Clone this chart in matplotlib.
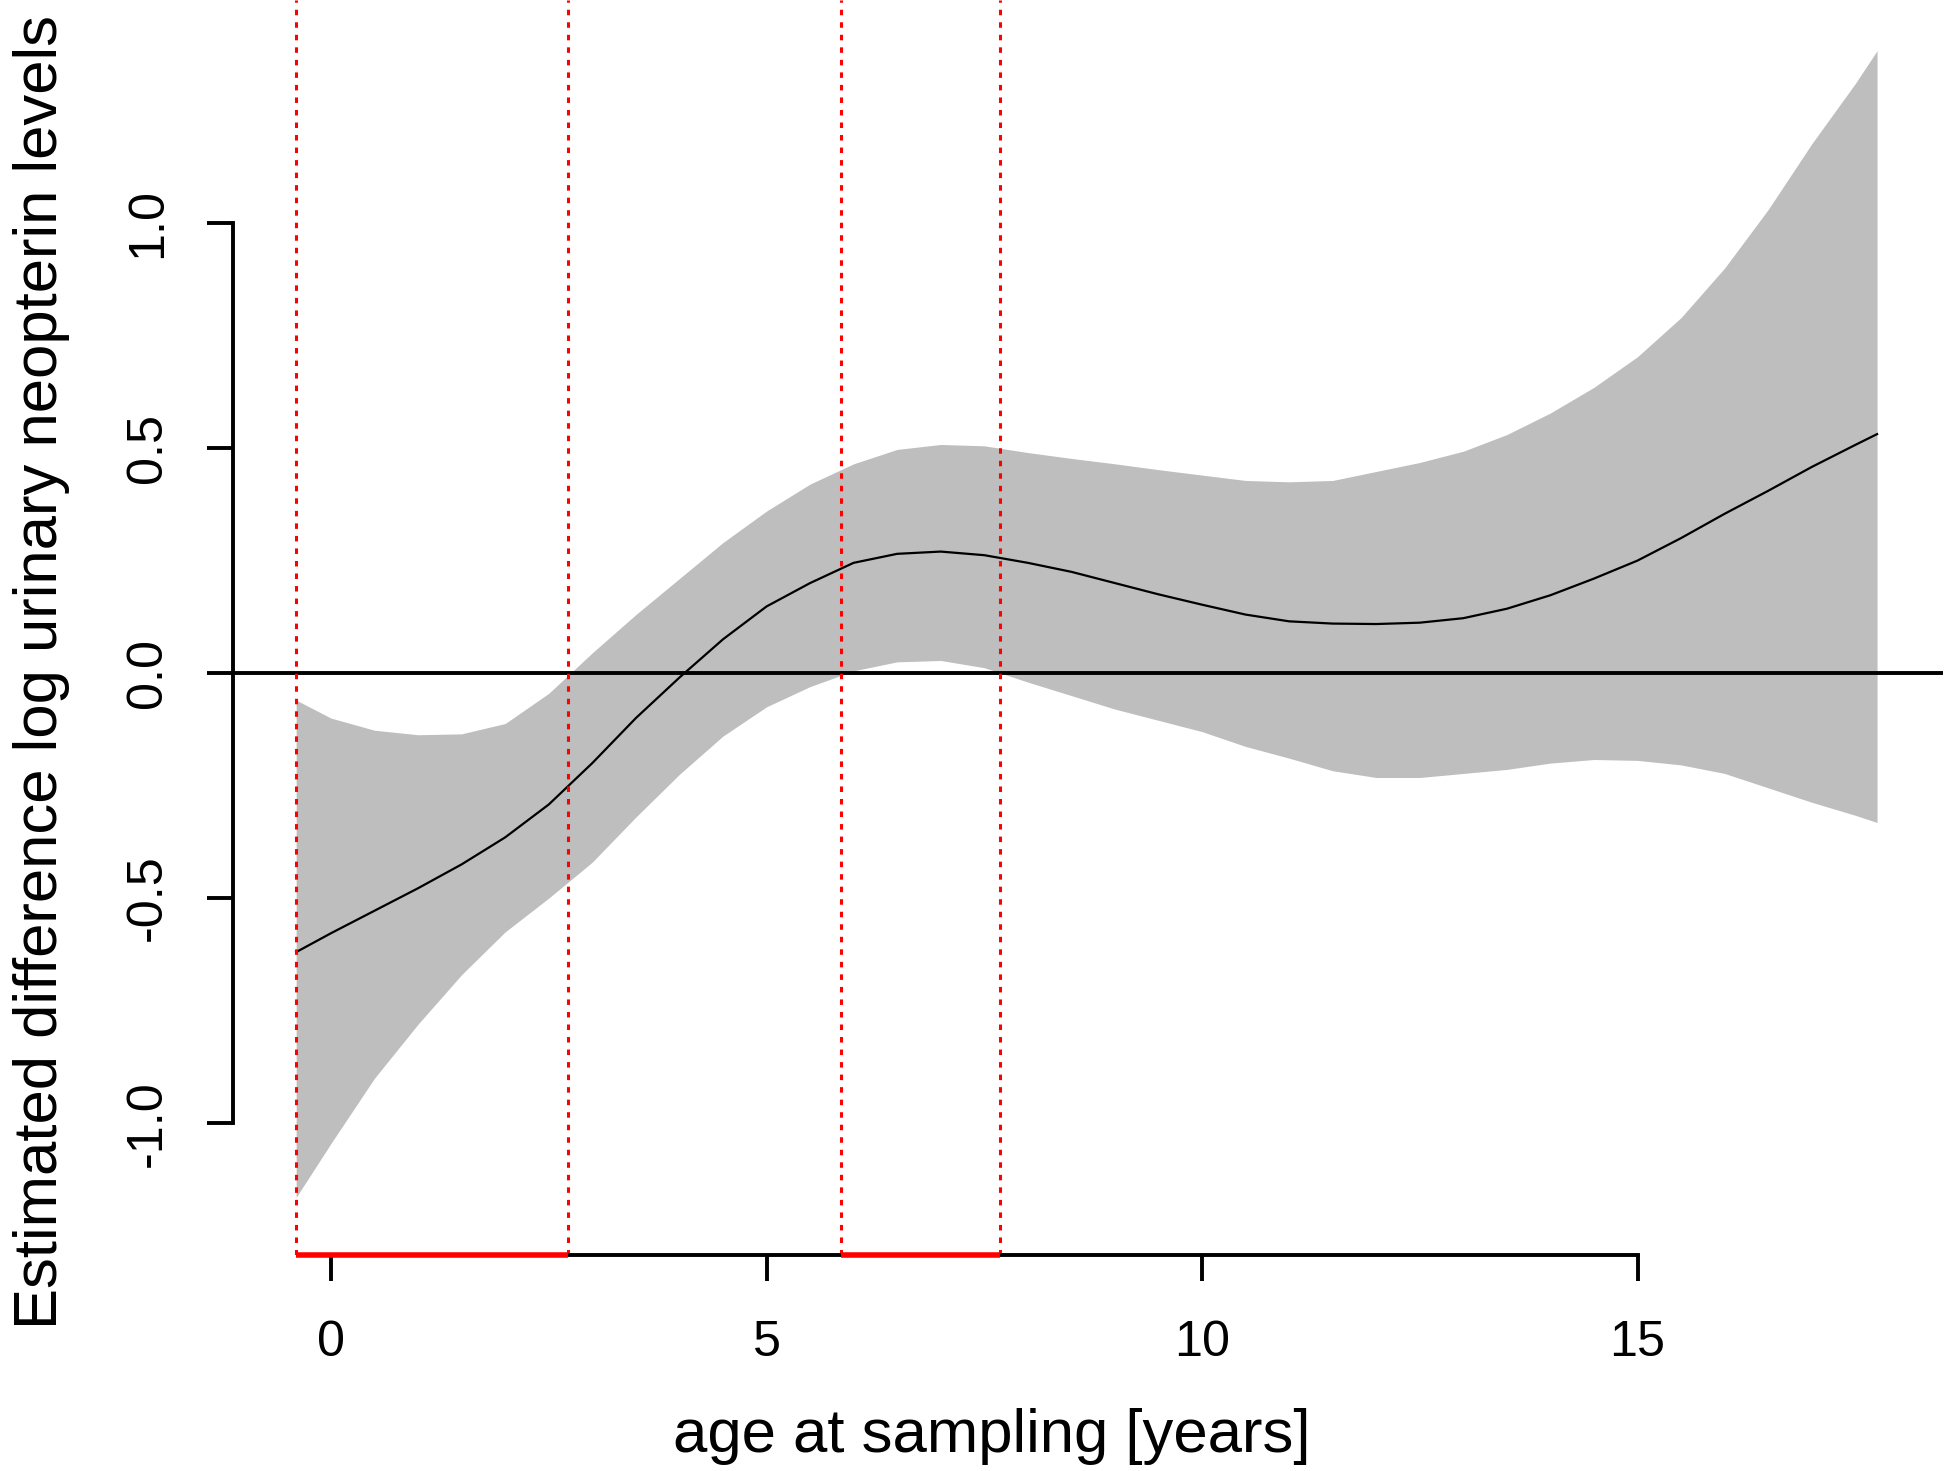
import numpy as np
import matplotlib
matplotlib.use("Agg")
import matplotlib.pyplot as plt

plt.rcParams['font.family'] = ['Liberation Sans', 'DejaVu Sans']
plt.rcParams['axes.unicode_minus'] = False

# valores
edad = [-0.4, 0, 0.5, 1, 1.5, 2, 2.5, 3, 3.5, 4, 4.5, 5, 5.5, 6, 6.5, 7, 7.5,
        8, 8.5, 9, 9.5, 10, 10.5, 11, 11.5, 12, 12.5, 13, 13.5, 14, 14.5, 15,
        15.5, 16, 16.5, 17, 17.5, 17.75]
estimado = [-0.62, -0.578, -0.528, -0.478, -0.425, -0.365, -0.292, -0.2, -0.1,
            -0.01, 0.075, 0.148, 0.2, 0.245, 0.265, 0.27, 0.262, 0.245, 0.225,
            0.2, 0.175, 0.152, 0.13, 0.115, 0.11, 0.109, 0.112, 0.122, 0.143,
            0.173, 0.21, 0.25, 0.3, 0.354, 0.405, 0.458, 0.507, 0.531]
superior = [-0.06, -0.1, -0.127, -0.137, -0.135, -0.112, -0.045, 0.045, 0.13,
            0.21, 0.29, 0.36, 0.42, 0.465, 0.497, 0.508, 0.505, 0.49, 0.477,
            0.465, 0.452, 0.44, 0.428, 0.425, 0.428, 0.448, 0.468, 0.493, 0.53,
            0.578, 0.635, 0.703, 0.79, 0.9, 1.03, 1.176, 1.31, 1.383]
inferior = [-1.165, -1.045, -0.9, -0.78, -0.67, -0.575, -0.5, -0.42, -0.32,
            -0.225, -0.14, -0.075, -0.03, 0.005, 0.025, 0.028, 0.012, -0.02,
            -0.05, -0.08, -0.105, -0.13, -0.163, -0.189, -0.217, -0.232,
            -0.232, -0.223, -0.214, -0.2, -0.192, -0.194, -0.204, -0.223,
            -0.255, -0.287, -0.316, -0.332]

# intervalos significativos
sig_inicio = [-0.4, 5.86]
sig_fin = [2.72, 7.68]

xticks = [0, 5, 10, 15]
yticks = [-1.0, -0.5, 0.0, 0.5, 1.0]
ytick_labels = ["-1.0", "-0.5", "0.0", "0.5", "1.0"]

W, H = 1950, 1471
fig = plt.figure(figsize=(W / 200, H / 200), dpi=200)
ax = fig.add_axes([233 / W, 1 - 1255 / H, (1943 - 233) / W, 1255 / H])

ax.fill_between(edad, inferior, superior, color="#BEBEBE", lw=0, zorder=1)
ax.plot(edad, estimado, color="black", lw=0.8, zorder=3)
ax.axhline(0, color="black", lw=1.4, zorder=3)

ymin = -1.293
for a, b in zip(sig_inicio, sig_fin):
    for xv in (a, b):
        ax.axvline(xv, color="red", lw=1.1, dashes=(1.8, 2.3), zorder=4)
    ax.plot([a, b], [ymin, ymin], color="red", lw=2.0, solid_capstyle="butt",
            zorder=6, clip_on=False)

ax.set_xlim(-1.125, 18.507)
ax.set_ylim(ymin, 1.4956)

for s in ["top", "right"]:
    ax.spines[s].set_visible(False)
ax.spines["left"].set_bounds(-1, 1)
ax.spines["bottom"].set_bounds(0, 15)
for s in ["left", "bottom"]:
    ax.spines[s].set_linewidth(1.4)
    ax.spines[s].set_zorder(5)

ax.set_xticks(xticks)
ax.set_xticklabels([str(v) for v in xticks])
ax.set_yticks(yticks)
ax.set_yticklabels(ytick_labels, rotation=90, va="center")
ax.tick_params(axis="both", length=9.4, width=1.4, labelsize=18.1)
ax.tick_params(axis="x", pad=14)
ax.tick_params(axis="y", pad=13)

fig.text(992 / W, 1 - 1452 / H, "age at sampling [years]", ha="center",
         va="baseline", fontsize=22.2)
fig.text(57 / W, 1 - 672 / H, "Estimated difference log urinary neopterin levels",
         ha="center", va="baseline", rotation=90, rotation_mode="anchor",
         fontsize=22.2)

fig.savefig("out.png", dpi=200)
